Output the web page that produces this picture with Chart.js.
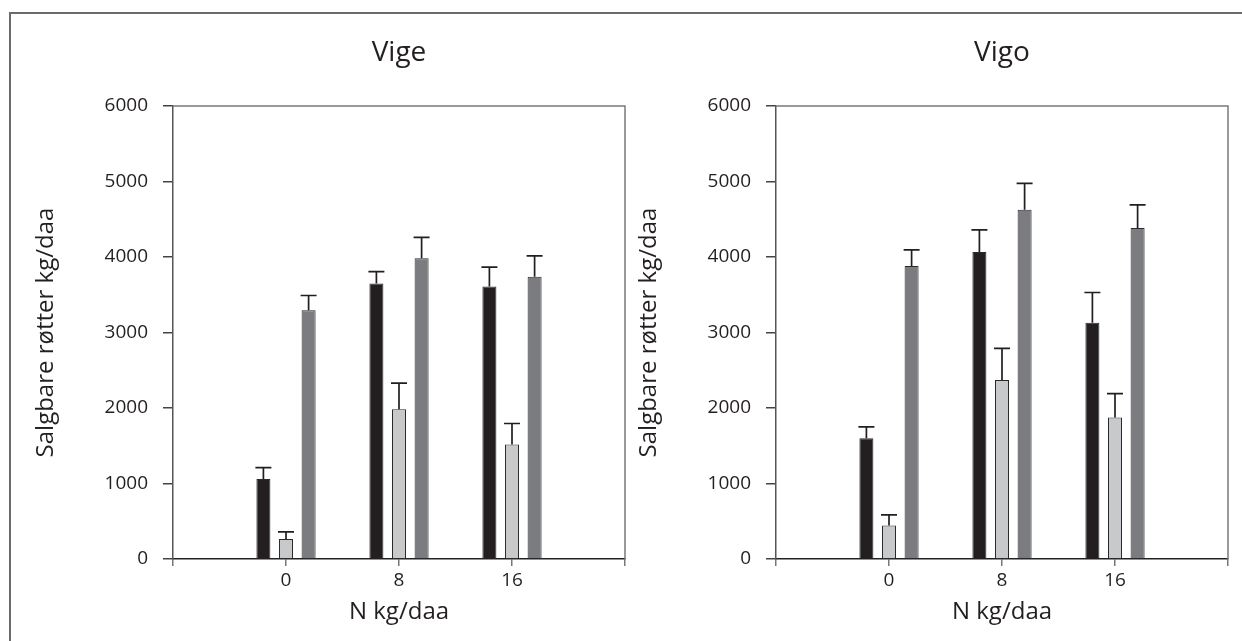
<!DOCTYPE html>
<html>
<head>
<meta charset="utf-8">
<script src="https://cdn.jsdelivr.net/npm/chart.js@4.4.1/dist/chart.umd.min.js"></script>
<style>
  html, body { margin: 0; padding: 0; background: #ffffff; width: 1242px; height: 641px; overflow: hidden; }
  #frame { position: absolute; left: 9px; top: 12px; width: 1240px; height: 640px;
           border-left: 2px solid #6b6b6b; border-top: 2px solid #6b6b6b; }
  .panel { position: absolute; top: 0; width: 639px; height: 641px; }
  #p1 { left: 0; }
  #p2 { left: 603px; }
</style>
</head>
<body>
<div id="frame"></div>
<div class="panel" id="p1"><canvas id="c1" width="639" height="641"></canvas></div>
<div class="panel" id="p2"><canvas id="c2" width="639" height="641"></canvas></div>
<script>
// ---- data ----
const categories = ['', '0', '8', '16', ''];
const yTicks = [0, 1000, 2000, 3000, 4000, 5000, 6000];
const panelTitles = ['Vige', 'Vigo'];
const xTitle = 'N kg/daa';
const yTitle = 'Salgbare røtter kg/daa';

const vigeBlack = [1060, 3650, 3610];
const vigeLight = [265, 1985, 1515];
const vigeDark  = [3295, 3985, 3740];
const vigeBlackErr = [150, 155, 255];
const vigeLightErr = [95, 345, 280];
const vigeDarkErr  = [195, 275, 275];

const vigoBlack = [1600, 4065, 3130];
const vigoLight = [445, 2370, 1875];
const vigoDark  = [3880, 4625, 4385];
const vigoBlackErr = [150, 295, 400];
const vigoLightErr = [140, 420, 315];
const vigoDarkErr  = [215, 350, 305];

// ---- styling ----
const FONT = "'Open Sans', 'DejaVu Sans', sans-serif";
const TEXT = '#231f20';
const fills = ['#231f20', '#c8c9cb', '#7b7c80'];

function pad(arr) { return [null].concat(arr, [null]); }

const errPlugin = {
  id: 'errbars',
  afterDatasetsDraw(chart) {
    const ctx = chart.ctx, ys = chart.scales.y;
    chart.data.datasets.forEach((ds, i) => {
      const meta = chart.getDatasetMeta(i);
      meta.data.forEach((bar, j) => {
        const v = ds.data[j], e = ds.errors ? ds.errors[j] : null;
        if (v == null || e == null) return;
        const yTop = ys.getPixelForValue(v + e);
        const yBar = ys.getPixelForValue(v);
        ctx.save();
        ctx.strokeStyle = '#231f20';
        ctx.lineWidth = 1.7;
        ctx.beginPath();
        ctx.moveTo(bar.x, yBar); ctx.lineTo(bar.x, yTop);
        ctx.moveTo(bar.x - 8, yTop); ctx.lineTo(bar.x + 8, yTop);
        ctx.stroke();
        ctx.restore();
      });
    });
  }
};

const framePlugin = {
  id: 'plotframe',
  afterLayout(chart) {
    // centre the title over the plot area
    if (chart.titleBlock) {
      chart.titleBlock.left = chart.chartArea.left;
      chart.titleBlock.right = chart.chartArea.right;
    }
  },
  afterDraw(chart) {
    const a = chart.chartArea, ctx = chart.ctx;
    ctx.save();
    ctx.strokeStyle = '#7a7a7a';
    ctx.lineWidth = 1.5;
    ctx.beginPath();
    ctx.moveTo(a.left, a.top); ctx.lineTo(a.right, a.top); ctx.lineTo(a.right, a.bottom);
    ctx.stroke();
    ctx.restore();
  }
};

function makeChart(id, title, black, light, dark, bErr, lErr, dErr) {
  const series = [black, light, dark];
  const errs = [bErr, lErr, dErr];
  return new Chart(document.getElementById(id), {
    type: 'bar',
    data: {
      labels: categories,
      datasets: series.map((s, k) => ({
        data: pad(s),
        errors: pad(errs[k]),
        backgroundColor: fills[k],
        borderColor: '#2a2a2a',
        borderWidth: 1,
        categoryPercentage: 0.6,
        barPercentage: 0.62
      }))
    },
    options: {
      responsive: false,
      animation: false,
      devicePixelRatio: 1,
      layout: { padding: { left: 0, right: 14, top: 0, bottom: 0 } },
      plugins: {
        legend: { display: false },
        tooltip: { enabled: false },
        title: {
          display: true, text: title, color: TEXT,
          font: { family: FONT, size: 28, weight: 'normal', lineHeight: 1.2 },
          padding: { top: 36, bottom: 36.4 }
        }
      },
      scales: {
        x: {
          offset: false,
          grid: { offset: false, drawOnChartArea: false, drawTicks: true, tickLength: 7, color: '#777', lineWidth: 1.5 },
          border: { display: true, color: '#222', width: 1.5 },
          ticks: { color: TEXT, font: { family: FONT, size: 19 }, padding: 3, maxRotation: 0, autoSkip: false },
          title: { display: true, text: xTitle, color: TEXT,
                   font: { family: FONT, size: 24, lineHeight: 1.2 }, padding: { top: 0, bottom: 14 } },
          afterFit(scale) { scale.height = 82; }
        },
        y: {
          min: 0, max: 6000,
          afterBuildTicks(scale) { scale.ticks = yTicks.map(v => ({ value: v })); },
          grid: { drawOnChartArea: false, drawTicks: true, tickLength: 10, color: '#444', lineWidth: 1.5 },
          border: { display: true, color: '#555', width: 1.5 },
          ticks: { color: TEXT, font: { family: FONT, size: 19 }, padding: 15,
                   callback: (v) => String(v) },
          title: { display: true, text: yTitle, color: TEXT,
                   font: { family: FONT, size: 24, lineHeight: 1.2 }, padding: { top: 32, bottom: 0 } },
          afterFit(scale) { scale.width = 173; }
        }
      }
    },
    plugins: [errPlugin, framePlugin]
  });
}

makeChart('c1', panelTitles[0], vigeBlack, vigeLight, vigeDark, vigeBlackErr, vigeLightErr, vigeDarkErr);
makeChart('c2', panelTitles[1], vigoBlack, vigoLight, vigoDark, vigoBlackErr, vigoLightErr, vigoDarkErr);
</script>
</body>
</html>
